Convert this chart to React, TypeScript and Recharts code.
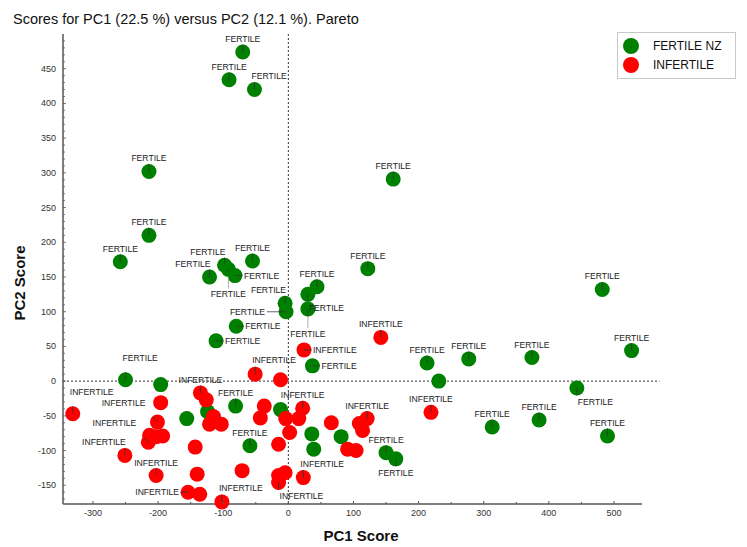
import React from 'react';
import { ScatterChart, Scatter, XAxis, YAxis, ReferenceLine } from 'recharts';

// ---- data (PC1, PC2 scores) ----
const fertileX = [-70, -91, -52, -214, -214, -258, -121, -98, -92, -82, -55, -5, -3.5, 30, 44, 30, -80, -111, 122, 161, 37, -250, -196, -81, -124, -156, -59, -12, 36, 39, 81, 150, 165, 213, 277, 231, 313, 374, 385, 443, 482, 527, 490];
const fertileY = [474, 434, 420, 302, 210, 172, 150, 167, 161, 152, 173, 112, 100, 125, 136, 104, 79, 58, 162, 291, 22, 2, -5, -36, -44, -54, -93, -41, -76, -98, -80, -103, -112, 26, 32, 0, -66, 34, -56, -10, 132, 44, -79];
const fertileLabelPos = ['a', 'a', 'ar', 'a', 'a', 'a', 'al', 'al', 'B', 'r', 'a', 'al', 'L', 'br', 'a', 'B', 'r', 'r', 'a', 'a', 'r', 'AR', 'n', 'a', 'n', 'n', 'a', 'n', 'n', 'n', 'n', 'a', 'b', 'a', 'a', 'n', 'a', 'a', 'a', 'br', 'a', 'a', 'a'];

const infertileX = [-331, -251, -203, -213, -215, -203, -193, -201, -196, -135, -126, -115, -121, -103, -143, -140, -71, -154, -136, -102, -51, -12, 24, 142, -37, -43, -4, 22, 16, 2, -15, 66, 109, 121, 114, 91, 104, 219, -5, -15, -15, 23];
const infertileY = [-47, -107, -136, -78, -88, -80, -79, -59, -31, -17, -27, -51, -62, -62, -95, -134, -129, -160, -163, -174, 10, 2, 45, 63, -36, -53, -54, -39, -54, -74, -91, -60, -61, -54, -71, -98, -100, -45, -132, -136, -146, -139];
const infertileLabelPos = ['AR', 'al', 'a', 'n', 'AL', 'n', 'n', 'AL', 'n', 'a', 'n', 'n', 'n', 'n', 'n', 'n', 'n', 'l', 'n', 'ar', 'ar', 'n', 'r', 'a', 'n', 'n', 'n', 'a', 'n', 'n', 'n', 'n', 'n', 'a', 'n', 'n', 'n', 'a', 'n', 'n', 'br', 'ar'];

const xMajorTicks = [-300, -200, -100, 0, 100, 200, 300, 400, 500];
const yMajorTicks = [-150, -100, -50, 0, 50, 100, 150, 200, 250, 300, 350, 400, 450];
const seriesNames = ['FERTILE NZ', 'INFERTILE'];
const pointLabels = ['FERTILE', 'INFERTILE'];

const GREEN = '#008000';
const RED = '#ff0000';
const AXIS = '#555';
const FONT = '"Liberation Sans", Arial, sans-serif';

const fertileData = fertileX.map((x, i) => ({ x, y: fertileY[i], pos: fertileLabelPos[i] }));
const infertileData = infertileX.map((x, i) => ({ x, y: infertileY[i], pos: infertileLabelPos[i] }));

const xDomain = [-346, 543];
const yDomain = [-177, 500];
const xTicks: number[] = [];
for (let v = -300; v <= 500; v += 50) xTicks.push(v);
const yTicks: number[] = [];
for (let v = -170; v <= 490; v += 10) yTicks.push(v);

const R = 7.5;

function leaderEnd(pos: string, cx: number, cy: number): [number, number] | null {
  switch (pos) {
    case 'a': case 'al': case 'ar': case 'AR': return [cx, cy - R];
    case 'AL': return [cx - 5, cy - 5];
    case 'b': case 'B': case 'br': return [cx, cy + R];
    case 'r': return [cx + R, cy];
    case 'l': return [cx - R, cy];
    case 'L': return [cx - 19, cy];
    default: return null;
  }
}

const makeDot = (color: string) => (props: any) => {
  const { cx, cy, payload } = props;
  if (cx == null || cy == null) return <g />;
  const end = leaderEnd(payload.pos, cx, cy);
  return (
    <g>
      <circle cx={cx} cy={cy} r={R} fill={color} />
      {end && <line x1={cx} y1={cy} x2={end[0]} y2={end[1]} stroke="#333" strokeWidth={0.8} />}
    </g>
  );
};

const makeLabel = (text: string) => (props: any) => {
  const { cx, cy, payload } = props;
  if (cx == null || cy == null) return <g />;
  const pos = payload.pos;
  let x = cx, y = cy, anchor: 'start' | 'middle' | 'end' = 'middle';
  let extra: any = null;
  switch (pos) {
    case 'a': y = cy - 10; break;
    case 'al': x = cx + 1; y = cy - 10; anchor = 'end'; break;
    case 'AL': x = cx - 12; y = cy - 16; anchor = 'end'; break;
    case 'ar': x = cx - 3; y = cy - 11; anchor = 'start'; break;
    case 'AR': x = cx - 3; y = cy - 19; anchor = 'start'; break;
    case 'b': y = cy + 17; break;
    case 'B': y = cy + 28; extra = <line x1={cx} y1={cy + R} x2={cx} y2={cy + 19} stroke="#999" strokeWidth={0.8} />; break;
    case 'br': x = cx + 1; y = cy + 17; anchor = 'start'; break;
    case 'r': x = cx + 9; y = cy + 3; anchor = 'start'; break;
    case 'l': x = cx - 9; y = cy + 3; anchor = 'end'; break;
    case 'L': x = cx - 21; y = cy + 3; anchor = 'end'; extra = <line x1={cx - R} y1={cy} x2={cx - 19} y2={cy} stroke="#999" strokeWidth={0.8} />; break;
    default: return <g />;
  }
  return (
    <g>
      {extra}
      <text x={x} y={y} textAnchor={anchor} fontSize={8.6} fontFamily={FONT} fill="#222">{text}</text>
    </g>
  );
};

const XTick = (props: any) => {
  const { x, y, payload } = props;
  const v = payload.value;
  const major = xMajorTicks.includes(v);
  return (
    <g>
      <line x1={x} y1={y} x2={x} y2={y - (major ? 3 : 2)} stroke={AXIS} strokeWidth={1} />
      {major && <text x={x} y={y + 12} textAnchor="middle" fontSize={9} fontFamily={FONT} fill="#333">{v}</text>}
    </g>
  );
};

const YTick = (props: any) => {
  const { x, y, payload } = props;
  const v = payload.value;
  const major = yMajorTicks.includes(v);
  return (
    <g>
      <line x1={x} y1={y} x2={x + (major ? 3 : 2)} y2={y} stroke={AXIS} strokeWidth={0.8} />
      {major && <text x={x - 7} y={y + 3} textAnchor="end" fontSize={9} fontFamily={FONT} fill="#333">{v}</text>}
    </g>
  );
};

export default function App() {
  return (
    <div style={{ position: 'absolute', left: 0, top: 0, width: 747, height: 547, background: '#fff', fontFamily: FONT }}>
      <div style={{ position: 'absolute', left: 13, top: 11, fontSize: 14.5, lineHeight: '16px', color: '#111', whiteSpace: 'nowrap' }}>
        Scores for PC1 (22.5 %) versus PC2 (12.1 %). Pareto
      </div>
      <ScatterChart width={747} height={547} margin={{ top: 34, right: 105, bottom: 0, left: 0 }}>
        <XAxis type="number" dataKey="x" domain={xDomain} ticks={xTicks} interval={0} tick={<XTick />} tickLine={false} tickSize={0} tickMargin={0} axisLine={{ stroke: AXIS, strokeWidth: 1.5 }} height={43} />
        <YAxis type="number" dataKey="y" domain={yDomain} ticks={yTicks} interval={0} tick={<YTick />} tickLine={false} tickSize={0} tickMargin={0} axisLine={{ stroke: AXIS, strokeWidth: 1.5 }} width={63} />
        <ReferenceLine x={0} stroke="#333" strokeDasharray="2 2" strokeWidth={1} />
        <ReferenceLine segment={[{ x: -346, y: 0 }, { x: 570, y: 0 }]} ifOverflow="visible" stroke="#333" strokeDasharray="2 2" strokeWidth={1} />
        <Scatter name={seriesNames[0]} data={fertileData} shape={makeDot(GREEN)} isAnimationActive={false} />
        <Scatter name={seriesNames[1]} data={infertileData} shape={makeDot(RED)} isAnimationActive={false} />
        <Scatter data={fertileData} shape={makeLabel(pointLabels[0])} isAnimationActive={false} />
        <Scatter data={infertileData} shape={makeLabel(pointLabels[1])} isAnimationActive={false} />
      </ScatterChart>
      <div style={{ position: 'absolute', left: 617, top: 32, width: 119, height: 47, border: '1px solid #c8c8c8', boxSizing: 'border-box', background: '#fff' }}>
        {seriesNames.map((n, i) => (
          <div key={n} style={{ position: 'absolute', left: 5, top: 4 + i * 19, height: 17, display: 'flex', alignItems: 'center' }}>
            <span style={{ display: 'inline-block', width: 16, height: 16, borderRadius: 8, background: i === 0 ? GREEN : RED }} />
            <span style={{ marginLeft: 14, fontSize: 12, color: '#111', whiteSpace: 'nowrap' }}>{n}</span>
          </div>
        ))}
      </div>
      <div style={{ position: 'absolute', left: 261, width: 200, top: 527, lineHeight: '17px', textAlign: 'center', fontSize: 15, fontWeight: 'bold', color: '#111' }}>PC1 Score</div>
      <div style={{ position: 'absolute', left: 20, top: 283, width: 0, height: 0 }}>
        <div style={{ position: 'absolute', left: -100, top: -10, width: 200, textAlign: 'center', fontSize: 15, fontWeight: 'bold', color: '#111', transform: 'rotate(-90deg)', lineHeight: '20px' }}>PC2 Score</div>
      </div>
    </div>
  );
}
